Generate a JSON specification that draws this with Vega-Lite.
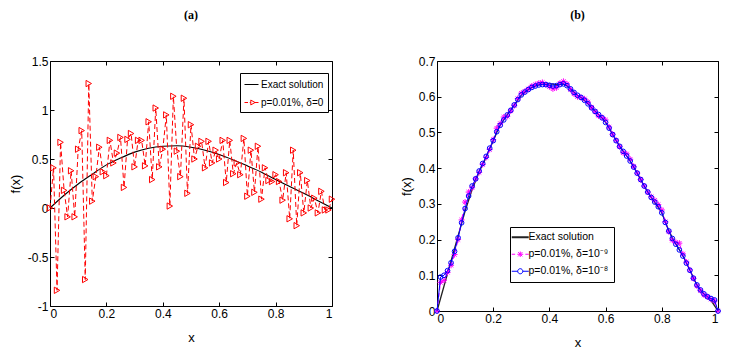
{
  "$schema": "https://vega.github.io/schema/vega-lite/v6.json",
  "padding": {"left": 8, "top": 8, "right": 5, "bottom": 3},
  "background": "white",
  "spacing": 61,
  "datasets": {
    "aE": [
      {"x":0,"y":0},{"x":0.05,"y":0.13},{"x":0.1,"y":0.245},{"x":0.15,"y":0.345},{"x":0.2,"y":0.44},
      {"x":0.25,"y":0.51},{"x":0.3,"y":0.57},{"x":0.35,"y":0.61},{"x":0.4,"y":0.63},{"x":0.45,"y":0.635},
      {"x":0.5,"y":0.62},{"x":0.55,"y":0.59},{"x":0.6,"y":0.545},{"x":0.65,"y":0.49},{"x":0.7,"y":0.43},
      {"x":0.75,"y":0.365},{"x":0.8,"y":0.29},{"x":0.85,"y":0.22},{"x":0.9,"y":0.15},{"x":0.95,"y":0.075},{"x":1,"y":0}
    ],
    "aN": [
      {"x":0,"y":0},{"x":0.0125,"y":0.41},{"x":0.025,"y":-0.84},{"x":0.0375,"y":0.67},{"x":0.05,"y":0.18},
      {"x":0.0625,"y":-0.09},{"x":0.075,"y":0.38},{"x":0.0875,"y":-0.09},{"x":0.1,"y":0.6},{"x":0.1125,"y":0.79},
      {"x":0.125,"y":-0.73},{"x":0.1375,"y":1.27},{"x":0.15,"y":0.07},{"x":0.1625,"y":0.32},{"x":0.175,"y":0.62},
      {"x":0.1875,"y":0.37},{"x":0.2,"y":0.33},{"x":0.2125,"y":0.69},{"x":0.225,"y":0.46},{"x":0.2375,"y":0.56},
      {"x":0.25,"y":0.72},{"x":0.2625,"y":0.21},{"x":0.275,"y":0.7},{"x":0.2875,"y":0.76},{"x":0.3,"y":0.42},
      {"x":0.3125,"y":0.69},{"x":0.325,"y":0.69},{"x":0.3375,"y":0.43},{"x":0.35,"y":0.88},{"x":0.3625,"y":0.29},
      {"x":0.375,"y":1.02},{"x":0.3875,"y":0.42},{"x":0.4,"y":0.6},{"x":0.4125,"y":0.95},{"x":0.425,"y":0.02},
      {"x":0.4375,"y":1.14},{"x":0.45,"y":0.58},{"x":0.4625,"y":0.32},{"x":0.475,"y":1.12},{"x":0.4875,"y":0.15},
      {"x":0.5,"y":0.85},{"x":0.5125,"y":0.5},{"x":0.525,"y":0.63},{"x":0.5375,"y":0.68},{"x":0.55,"y":0.41},
      {"x":0.5625,"y":0.68},{"x":0.575,"y":0.46},{"x":0.5875,"y":0.59},{"x":0.6,"y":0.5},{"x":0.6125,"y":0.69},
      {"x":0.625,"y":0.26},{"x":0.6375,"y":0.69},{"x":0.65,"y":0.35},{"x":0.6625,"y":0.46},{"x":0.675,"y":0.34},
      {"x":0.6875,"y":0.71},{"x":0.7,"y":0.12},{"x":0.7125,"y":0.59},{"x":0.725,"y":0.16},{"x":0.7375,"y":0.63},
      {"x":0.75,"y":0.09},{"x":0.7625,"y":0.41},{"x":0.775,"y":0.28},{"x":0.7875,"y":0.27},{"x":0.8,"y":0.34},
      {"x":0.8125,"y":0.27},{"x":0.825,"y":0.08},{"x":0.8375,"y":0.36},{"x":0.85,"y":-0.11},{"x":0.8625,"y":0.59},
      {"x":0.875,"y":-0.18},{"x":0.8875,"y":0.36},{"x":0.9,"y":-0.05},{"x":0.9125,"y":0.28},{"x":0.925,"y":0},
      {"x":0.9375,"y":0.1},{"x":0.95,"y":-0.05},{"x":0.9625,"y":0.17},{"x":0.975,"y":-0.02},{"x":0.9875,"y":-0.02},
      {"x":1,"y":0.09}
    ],
    "bE": [
      {"x":0,"y":0},{"x":0.0125,"y":0.035},{"x":0.025,"y":0.07},{"x":0.0375,"y":0.105},{"x":0.05,"y":0.14},
      {"x":0.0625,"y":0.175},{"x":0.075,"y":0.21},{"x":0.0875,"y":0.245},{"x":0.1,"y":0.28},{"x":0.1125,"y":0.31},
      {"x":0.125,"y":0.34},{"x":0.1375,"y":0.365},{"x":0.15,"y":0.39},{"x":0.1625,"y":0.41},{"x":0.175,"y":0.43},
      {"x":0.1875,"y":0.455},{"x":0.2,"y":0.475},{"x":0.2125,"y":0.5},{"x":0.225,"y":0.52},{"x":0.2375,"y":0.535},
      {"x":0.25,"y":0.55},{"x":0.2625,"y":0.563},{"x":0.275,"y":0.577},{"x":0.2875,"y":0.59},{"x":0.3,"y":0.603},
      {"x":0.3125,"y":0.612},{"x":0.325,"y":0.62},{"x":0.3375,"y":0.626},{"x":0.35,"y":0.63},{"x":0.3625,"y":0.633},
      {"x":0.375,"y":0.635},{"x":0.3875,"y":0.636},{"x":0.4,"y":0.636},{"x":0.4125,"y":0.635},{"x":0.425,"y":0.634},
      {"x":0.4375,"y":0.635},{"x":0.45,"y":0.635},{"x":0.4625,"y":0.63},{"x":0.475,"y":0.622},{"x":0.4875,"y":0.613},
      {"x":0.5,"y":0.604},{"x":0.5125,"y":0.597},{"x":0.525,"y":0.589},{"x":0.5375,"y":0.58},{"x":0.55,"y":0.57},
      {"x":0.5625,"y":0.56},{"x":0.575,"y":0.55},{"x":0.5875,"y":0.54},{"x":0.6,"y":0.528},{"x":0.6125,"y":0.513},
      {"x":0.625,"y":0.495},{"x":0.6375,"y":0.478},{"x":0.65,"y":0.462},{"x":0.6625,"y":0.448},{"x":0.675,"y":0.434},
      {"x":0.6875,"y":0.42},{"x":0.7,"y":0.403},{"x":0.7125,"y":0.386},{"x":0.725,"y":0.368},{"x":0.7375,"y":0.35},
      {"x":0.75,"y":0.333},{"x":0.7625,"y":0.317},{"x":0.775,"y":0.303},{"x":0.7875,"y":0.29},{"x":0.8,"y":0.275},
      {"x":0.8125,"y":0.25},{"x":0.825,"y":0.225},{"x":0.8375,"y":0.205},{"x":0.85,"y":0.188},{"x":0.8625,"y":0.172},
      {"x":0.875,"y":0.155},{"x":0.8875,"y":0.135},{"x":0.9,"y":0.115},{"x":0.9125,"y":0.093},{"x":0.925,"y":0.073},
      {"x":0.9375,"y":0.058},{"x":0.95,"y":0.047},{"x":0.9625,"y":0.038},{"x":0.975,"y":0.03},{"x":0.9875,"y":0.015},
      {"x":1,"y":0}
    ],
    "bM": [
      {"x":0,"y":0},{"x":0.0125,"y":0.08},{"x":0.025,"y":0.086},{"x":0.0375,"y":0.108},{"x":0.05,"y":0.128},
      {"x":0.0625,"y":0.158},{"x":0.075,"y":0.2},{"x":0.0875,"y":0.255},{"x":0.1,"y":0.305},{"x":0.1125,"y":0.333},
      {"x":0.125,"y":0.345},{"x":0.1375,"y":0.37},{"x":0.15,"y":0.388},{"x":0.1625,"y":0.41},{"x":0.175,"y":0.43},
      {"x":0.1875,"y":0.452},{"x":0.2,"y":0.48},{"x":0.2125,"y":0.512},{"x":0.225,"y":0.525},{"x":0.2375,"y":0.543},
      {"x":0.25,"y":0.545},{"x":0.2625,"y":0.56},{"x":0.275,"y":0.575},{"x":0.2875,"y":0.595},{"x":0.3,"y":0.61},
      {"x":0.3125,"y":0.615},{"x":0.325,"y":0.622},{"x":0.3375,"y":0.63},{"x":0.35,"y":0.634},{"x":0.3625,"y":0.638},
      {"x":0.375,"y":0.64},{"x":0.3875,"y":0.634},{"x":0.4,"y":0.628},{"x":0.4125,"y":0.622},{"x":0.425,"y":0.625},
      {"x":0.4375,"y":0.638},{"x":0.45,"y":0.643},{"x":0.4625,"y":0.636},{"x":0.475,"y":0.62},{"x":0.4875,"y":0.608},
      {"x":0.5,"y":0.6},{"x":0.5125,"y":0.598},{"x":0.525,"y":0.594},{"x":0.5375,"y":0.585},{"x":0.55,"y":0.57},
      {"x":0.5625,"y":0.558},{"x":0.575,"y":0.546},{"x":0.5875,"y":0.542},{"x":0.6,"y":0.535},{"x":0.6125,"y":0.515},
      {"x":0.625,"y":0.495},{"x":0.6375,"y":0.478},{"x":0.65,"y":0.46},{"x":0.6625,"y":0.443},{"x":0.675,"y":0.44},
      {"x":0.6875,"y":0.425},{"x":0.7,"y":0.405},{"x":0.7125,"y":0.386},{"x":0.725,"y":0.368},{"x":0.7375,"y":0.35},
      {"x":0.75,"y":0.333},{"x":0.7625,"y":0.32},{"x":0.775,"y":0.31},{"x":0.7875,"y":0.298},{"x":0.8,"y":0.283},
      {"x":0.8125,"y":0.25},{"x":0.825,"y":0.222},{"x":0.8375,"y":0.198},{"x":0.85,"y":0.192},{"x":0.8625,"y":0.19},
      {"x":0.875,"y":0.16},{"x":0.8875,"y":0.137},{"x":0.9,"y":0.115},{"x":0.9125,"y":0.091},{"x":0.925,"y":0.07},
      {"x":0.9375,"y":0.057},{"x":0.95,"y":0.045},{"x":0.9625,"y":0.04},{"x":0.975,"y":0.033},{"x":0.9875,"y":0.028},
      {"x":1,"y":0}
    ],
    "bB": [
      {"x":0,"y":0},{"x":0.0125,"y":0.095},{"x":0.025,"y":0.1},{"x":0.0375,"y":0.113},{"x":0.05,"y":0.135},
      {"x":0.0625,"y":0.167},{"x":0.075,"y":0.205},{"x":0.0875,"y":0.247},{"x":0.1,"y":0.287},{"x":0.1125,"y":0.322},
      {"x":0.125,"y":0.35},{"x":0.1375,"y":0.37},{"x":0.15,"y":0.392},{"x":0.1625,"y":0.413},{"x":0.175,"y":0.433},
      {"x":0.1875,"y":0.456},{"x":0.2,"y":0.477},{"x":0.2125,"y":0.502},{"x":0.225,"y":0.52},{"x":0.2375,"y":0.535},
      {"x":0.25,"y":0.549},{"x":0.2625,"y":0.562},{"x":0.275,"y":0.577},{"x":0.2875,"y":0.592},{"x":0.3,"y":0.605},
      {"x":0.3125,"y":0.613},{"x":0.325,"y":0.62},{"x":0.3375,"y":0.626},{"x":0.35,"y":0.63},{"x":0.3625,"y":0.633},
      {"x":0.375,"y":0.634},{"x":0.3875,"y":0.634},{"x":0.4,"y":0.632},{"x":0.4125,"y":0.63},{"x":0.425,"y":0.631},
      {"x":0.4375,"y":0.634},{"x":0.45,"y":0.636},{"x":0.4625,"y":0.631},{"x":0.475,"y":0.622},{"x":0.4875,"y":0.612},
      {"x":0.5,"y":0.604},{"x":0.5125,"y":0.598},{"x":0.525,"y":0.59},{"x":0.5375,"y":0.58},{"x":0.55,"y":0.569},
      {"x":0.5625,"y":0.559},{"x":0.575,"y":0.55},{"x":0.5875,"y":0.541},{"x":0.6,"y":0.528},{"x":0.6125,"y":0.512},
      {"x":0.625,"y":0.494},{"x":0.6375,"y":0.477},{"x":0.65,"y":0.461},{"x":0.6625,"y":0.447},{"x":0.675,"y":0.434},
      {"x":0.6875,"y":0.42},{"x":0.7,"y":0.403},{"x":0.7125,"y":0.386},{"x":0.725,"y":0.368},{"x":0.7375,"y":0.35},
      {"x":0.75,"y":0.333},{"x":0.7625,"y":0.318},{"x":0.775,"y":0.305},{"x":0.7875,"y":0.292},{"x":0.8,"y":0.275},
      {"x":0.8125,"y":0.248},{"x":0.825,"y":0.224},{"x":0.8375,"y":0.203},{"x":0.85,"y":0.187},{"x":0.8625,"y":0.171},
      {"x":0.875,"y":0.154},{"x":0.8875,"y":0.134},{"x":0.9,"y":0.114},{"x":0.9125,"y":0.092},{"x":0.925,"y":0.073},
      {"x":0.9375,"y":0.059},{"x":0.95,"y":0.048},{"x":0.9625,"y":0.04},{"x":0.975,"y":0.035},{"x":0.9875,"y":0.031},
      {"x":1,"y":0}
    ]
  },
  "resolve": {"scale": {"color": "independent"}, "legend": {"color": "independent"}},
  "hconcat": [
    {
      "title": {"text": "(a)"},
      "width": 282,
      "height": 245,
      "resolve": {"axis": {"x": "independent", "y": "independent"}},
      "layer": [
        {
          "data": {"name": "aE"},
          "mark": {"type": "line", "interpolate": "monotone", "strokeWidth": 1.1},
          "encoding": {
            "x": {"field": "x", "type": "quantitative", "scale": {"domain": [0, 1], "nice": false},
                  "axis": {"orient": "bottom", "title": "x", "titlePadding": 12, "values": [0, 0.2, 0.4, 0.6, 0.8, 1], "labelExpr": "toString(datum.value)"}},
            "y": {"field": "y", "type": "quantitative", "scale": {"domain": [-1, 1.5], "nice": false},
                  "axis": {"orient": "left", "title": "f(x)", "values": [-1, -0.5, 0, 0.5, 1, 1.5], "labelExpr": "toString(datum.value)"}},
            "color": {"datum": "Exact solution", "type": "nominal",
              "scale": {"domain": ["Exact solution", "p=0.01%, δ=0"], "range": ["black", "#ff0000"]},
              "legend": {"orient": "none", "legendX": 190, "legendY": 12, "title": null,
                "strokeColor": "black", "fillColor": "white", "padding": 4, "cornerRadius": 0,
                "symbolSize": 196, "symbolStrokeWidth": 1, "labelFont": "Liberation Sans", "labelFontSize": 10,
                "labelColor": "black", "rowPadding": 5, "labelOffset": 2,
                "encode": {"symbols": {"update": {
                  "shape": {"signal": "datum.value === 'Exact solution' ? 'M-1,0L1,0' : 'M-1,0L-0.5,0M-0.25,0L-0.1,0M0.45,0L1,0M-0.1,-0.35L0.5,0L-0.1,0.35Z'"},
                  "fill": {"value": "transparent"},
                  "strokeDash": {"value": []}}}}}}
          }
        },
        {
          "data": {"name": "aN"},
          "mark": {"type": "line", "strokeWidth": 1, "strokeDash": [5, 3]},
          "encoding": {
            "x": {"field": "x", "type": "quantitative", "axis": null},
            "y": {"field": "y", "type": "quantitative", "axis": null},
            "color": {"datum": "p=0.01%, δ=0", "type": "nominal"}
          }
        },
        {
          "data": {"name": "aN"},
          "mark": {"type": "point", "shape": "triangle-right", "filled": false, "size": 40, "strokeWidth": 1, "opacity": 1},
          "encoding": {
            "x": {"field": "x", "type": "quantitative",
                  "axis": {"orient": "top", "title": null, "labels": false, "values": [0, 0.2, 0.4, 0.6, 0.8, 1]}},
            "y": {"field": "y", "type": "quantitative",
                  "axis": {"orient": "right", "title": null, "labels": false, "values": [-1, -0.5, 0, 0.5, 1, 1.5]}},
            "color": {"datum": "p=0.01%, δ=0", "type": "nominal"}
          }
        }
      ]
    },
    {
      "title": {"text": "(b)"},
      "width": 281,
      "height": 250,
      "resolve": {"axis": {"x": "independent", "y": "independent"}},
      "layer": [
        {
          "data": {"name": "bE"},
          "mark": {"type": "line", "strokeWidth": 1.3},
          "encoding": {
            "x": {"field": "x", "type": "quantitative", "scale": {"domain": [0, 1], "nice": false},
                  "axis": {"orient": "bottom", "title": "x", "titlePadding": 12, "values": [0, 0.2, 0.4, 0.6, 0.8, 1], "labelExpr": "toString(datum.value)"}},
            "y": {"field": "y", "type": "quantitative", "scale": {"domain": [0, 0.7], "nice": false},
                  "axis": {"orient": "left", "title": "f(x)", "values": [0, 0.1, 0.2, 0.3, 0.4, 0.5, 0.6, 0.7], "labelExpr": "toString(datum.value)"}},
            "color": {"datum": "Exact solution", "type": "nominal",
              "scale": {"domain": ["Exact solution", "p=0.01%, δ=10⁻⁹", "p=0.01%, δ=10⁻⁸"], "range": ["#222222", "#ff00ff", "#0000ff"]},
              "legend": {"orient": "none", "legendX": 73, "legendY": 166, "title": null,
                "strokeColor": "black", "fillColor": "white", "padding": 5, "cornerRadius": 0,
                "symbolSize": 289, "symbolStrokeWidth": 1, "labelFont": "Liberation Sans", "labelFontSize": 10.5,
                "labelColor": "black", "rowPadding": 6, "labelOffset": 3,
                "encode": {"symbols": {"update": {
                  "shape": {"signal": "datum.value === 'Exact solution' ? 'M-1,0L1,0' : (indexof(datum.value, '⁻⁹') >= 0 ? 'M-1,0L-0.6,0M-0.35,0L0.35,0M0.6,0L1,0M-0.25,-0.25L0.25,0.25M-0.25,0.25L0.25,-0.25M0,-0.32L0,0.32' : 'M-1,0L-0.3,0M0.3,0L1,0M0.3,0A0.3,0.3 0 1,1 -0.3,0A0.3,0.3 0 1,1 0.3,0')"},
                  "fill": {"value": "transparent"},
                  "strokeWidth": {"signal": "datum.value === 'Exact solution' ? 2 : 1"},
                  "stroke": {"signal": "datum.value === 'Exact solution' ? '#666666' : (indexof(datum.value, '⁻⁹') >= 0 ? '#ff00ff' : '#0000ff')"},
                  "strokeDash": {"value": []}}}}}}
          }
        },
        {
          "data": {"name": "bM"},
          "mark": {"type": "line", "strokeWidth": 1, "strokeDash": [4, 3]},
          "encoding": {
            "x": {"field": "x", "type": "quantitative", "axis": null},
            "y": {"field": "y", "type": "quantitative", "axis": null},
            "color": {"datum": "p=0.01%, δ=10⁻⁹", "type": "nominal"}
          }
        },
        {
          "data": {"name": "bM"},
          "mark": {"type": "point", "shape": "M-1,0L1,0M0,-1L0,1M-0.7,-0.7L0.7,0.7M-0.7,0.7L0.7,-0.7", "filled": false, "size": 36, "strokeWidth": 1, "opacity": 1},
          "encoding": {
            "x": {"field": "x", "type": "quantitative", "axis": null},
            "y": {"field": "y", "type": "quantitative", "axis": null},
            "color": {"datum": "p=0.01%, δ=10⁻⁹", "type": "nominal"}
          }
        },
        {
          "data": {"name": "bB"},
          "mark": {"type": "line", "strokeWidth": 1},
          "encoding": {
            "x": {"field": "x", "type": "quantitative", "axis": null},
            "y": {"field": "y", "type": "quantitative", "axis": null},
            "color": {"datum": "p=0.01%, δ=10⁻⁸", "type": "nominal"}
          }
        },
        {
          "data": {"name": "bB"},
          "mark": {"type": "point", "shape": "circle", "filled": false, "size": 22, "strokeWidth": 1, "opacity": 1},
          "encoding": {
            "x": {"field": "x", "type": "quantitative",
                  "axis": {"orient": "top", "title": null, "labels": false, "values": [0, 0.2, 0.4, 0.6, 0.8, 1]}},
            "y": {"field": "y", "type": "quantitative",
                  "axis": {"orient": "right", "title": null, "labels": false, "values": [0, 0.1, 0.2, 0.3, 0.4, 0.5, 0.6, 0.7]}},
            "color": {"datum": "p=0.01%, δ=10⁻⁸", "type": "nominal"}
          }
        }
      ]
    }
  ],
  "config": {
    "view": {"stroke": "black", "strokeWidth": 1},
    "axis": {"grid": false, "domain": false, "tickColor": "black", "tickSize": -4, "tickWidth": 1,
             "labelPadding": 6, "labelColor": "black", "labelFont": "Liberation Sans", "labelFontSize": 12,
             "titleColor": "black", "titleFont": "Liberation Sans", "titleFontSize": 13, "titleFontWeight": "normal",
             "titlePadding": 5},
    "title": {"font": "Liberation Serif", "fontSize": 12, "fontWeight": "bold", "color": "black", "offset": 33, "anchor": "middle"}
  }
}
